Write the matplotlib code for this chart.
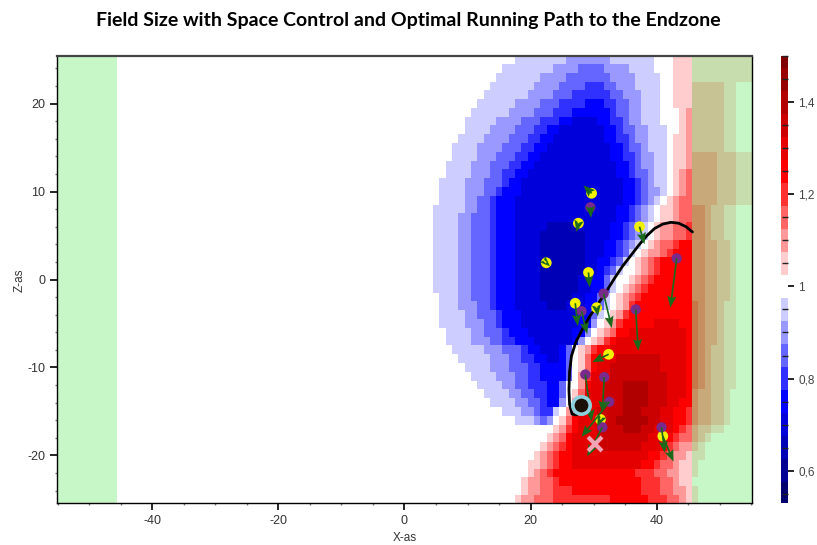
import numpy as np
import matplotlib
matplotlib.use("Agg")
import matplotlib.pyplot as plt
from matplotlib.colors import ListedColormap, BoundaryNorm
from matplotlib.ticker import MultipleLocator, FuncFormatter

plt.rcParams['font.family'] = ['Liberation Sans', 'DejaVu Sans']
plt.rcParams['axes.unicode_minus'] = False

# space control field, one string per row (y = 25 .. -25), columns x = 5 .. 55
# token "x:c" -> level c starts at column x (runs until the next token)
FIELD_X0, FIELD_X1 = 5, 55
FIELD_ROWS = {
    25: "18:a 26:b 33:a 40:. 43:1",
    24: "16:a 24:b 28:c 32:b 36:a 40:. 43:1",
    23: "15:a 22:b 26:c 33:b 37:a 41:. 43:1",
    22: "14:a 21:b 25:c 29:d 32:c 34:b 37:a 41:. 43:1 46:2 51:1 53:.",
    21: "13:a 20:b 24:c 27:d 33:c 35:b 38:a 41:. 43:1 46:2 51:1 53:.",
    20: "12:a 18:b 22:c 25:d 29:e 32:d 34:c 36:b 38:a 41:. 43:1 46:2 51:1 53:.",
    19: "11:a 17:b 21:c 24:d 27:e 33:d 34:c 36:b 38:a 41:. 44:1 45:2 51:1 53:.",
    18: "10:a 15:b 19:c 22:d 25:e 27:f 31:e 33:d 35:c 36:b 38:a 41:. 44:1 45:2 51:1 53:.",
    17: "10:a 14:b 18:c 21:d 23:e 25:f 32:e 34:d 35:c 37:b 39:a 42:. 44:1 45:2 51:1 53:.",
    16: "9:a 13:b 17:c 20:d 22:e 24:f 32:e 34:d 36:c 37:b 39:a 42:. 43:1 45:2 51:1 53:.",
    15: "8:a 12:b 16:c 19:d 21:e 23:f 33:e 35:d 36:c 38:b 39:a 42:. 43:1 45:2 51:1 53:.",
    14: "8:a 12:b 15:c 18:d 20:e 22:f 33:e 35:d 37:c 38:b 40:a 42:. 43:1 45:2 46:3 50:2 53:1",
    13: "7:a 11:b 14:c 17:d 19:e 21:f 34:e 36:d 37:c 38:b 40:a 42:. 43:1 45:2 46:3 50:2 53:1",
    12: "7:a 11:b 14:c 16:d 18:e 20:f 34:e 36:d 37:c 39:b 40:a 42:. 43:1 44:2 45:3 50:2 53:1",
    11: "6:a 10:b 13:c 16:d 17:e 19:f 35:e 37:d 38:c 39:b 40:a 42:. 43:1 44:2 45:3 50:2 53:1",
    10: "6:a 10:b 13:c 15:d 16:e 19:f 35:e 37:d 38:c 39:b 41:a 42:. 43:1 44:2 45:3 50:2 53:1",
    9: "6:a 10:b 12:c 14:d 15:e 18:f 35:e 37:d 38:c 39:b 40:a 41:. 42:1 43:2 44:3 50:2 53:1",
    8: "5:a 10:b 12:c 14:d 15:e 18:f 34:e 36:d 37:c 38:b 39:a 40:. 41:1 43:2 44:3 46:4 48:3 49:2 51:1 53:.",
    7: "5:a 9:b 11:c 14:d 15:e 18:f 34:e 36:d 37:c 38:b 39:a 40:. 41:1 43:2 44:3 46:4 48:3 49:2 51:1 53:.",
    6: "5:a 9:b 11:c 14:d 15:e 18:f 23:g 28:f 33:e 35:d 36:c 37:b 38:a 39:. 40:1 41:2 43:3 45:4 48:3 49:2 51:1 53:.",
    5: "5:a 9:b 11:c 14:d 15:e 18:f 22:g 29:f 33:e 35:d 36:c 37:b 38:a 39:. 40:1 41:2 43:3 45:4 48:3 49:2 51:1 53:.",
    4: "5:a 9:b 11:c 14:d 15:e 18:f 22:g 29:f 32:e 34:d 35:c 36:b 37:a 38:. 39:1 40:2 41:3 43:4 44:5 46:4 48:3 50:2 52:1 53:.",
    3: "5:a 9:b 11:c 14:d 15:e 18:f 22:g 29:f 32:e 34:d 35:c 36:a 37:. 38:1 39:2 41:3 42:4 43:5 46:4 48:3 50:2 52:1 53:.",
    2: "5:a 9:b 11:c 14:d 15:e 18:f 22:g 29:f 31:e 33:d 34:c 35:a 36:. 37:1 38:2 39:3 40:4 41:5 46:4 48:3 50:2 52:1 53:.",
    1: "5:a 9:b 11:c 14:d 15:e 18:f 22:g 29:f 31:e 32:d 33:c 34:a 35:. 37:1 38:2 39:3 40:4 41:5 46:4 48:3 50:2 52:1 53:.",
    0: "5:a 9:b 11:c 14:d 15:e 18:f 22:g 28:f 30:e 32:c 33:a 34:. 36:1 37:2 38:3 39:4 40:5 46:4 48:3 50:2 52:1 53:.",
    -1: "5:a 9:b 11:c 14:d 15:e 18:f 22:g 28:f 30:e 32:c 33:a 34:. 35:1 36:2 37:3 38:4 39:5 46:4 48:3 50:2 52:1 53:.",
    -2: "6:a 9:b 11:c 14:d 15:e 18:f 22:g 27:f 29:e 31:c 32:a 33:. 34:1 35:2 36:3 37:4 38:5 46:4 48:3 50:2 52:1 53:.",
    -3: "6:a 9:b 12:c 14:d 15:e 18:f 23:g 26:f 29:e 31:c 32:a 33:. 34:1 35:2 36:4 37:5 47:4 48:3 50:2 51:1 53:.",
    -4: "6:a 10:b 12:c 15:d 16:e 19:f 28:e 30:c 31:a 32:. 33:1 34:2 35:4 36:5 47:4 48:3 50:2 51:1 53:.",
    -5: "6:a 10:b 13:c 15:d 16:e 19:f 28:e 30:b 31:. 32:1 33:2 34:4 35:5 40:6 44:5 47:4 48:3 50:2 51:1 53:.",
    -6: "7:a 11:b 13:c 16:d 17:e 20:f 27:e 29:b 30:. 31:1 32:2 33:3 34:5 36:6 45:5 47:4 48:3 50:2 51:1 53:.",
    -7: "7:a 11:b 14:c 16:d 18:e 21:f 27:e 28:b 29:. 30:1 31:2 32:4 33:5 34:6 45:5 47:4 48:3 50:2 51:1 53:.",
    -8: "8:a 13:b 16:c 19:d 20:e 22:f 25:e 26:c 27:. 28:1 29:2 30:4 31:5 33:6 45:5 47:4 48:3 49:2 51:1 53:.",
    -9: "9:a 14:b 17:c 19:d 21:e 23:f 25:e 26:c 27:. 28:1 29:3 30:5 31:6 34:7 41:6 45:5 47:4 48:3 49:2 51:1 53:.",
    -10: "10:a 14:b 17:c 20:d 22:e 26:c 27:. 28:1 29:3 30:5 31:6 33:7 41:6 45:5 47:4 48:3 49:2 51:1 53:.",
    -11: "11:a 15:b 18:c 20:d 22:e 26:c 27:. 28:2 29:4 30:6 33:7 42:6 45:5 47:4 48:3 49:2 51:1 53:.",
    -12: "12:a 16:b 18:c 20:d 23:e 25:c 26:. 28:2 29:5 30:6 32:7 35:8 39:7 42:6 45:5 47:4 48:3 49:2 51:1 53:.",
    -13: "13:a 17:b 19:c 21:d 23:e 25:c 26:. 27:1 28:3 29:6 32:7 35:8 39:7 42:6 45:5 46:4 47:3 49:2 51:1 52:.",
    -14: "14:a 18:b 20:c 22:d 23:e 25:b 26:. 27:2 28:5 29:6 32:7 35:8 39:7 42:6 44:5 46:4 47:3 49:2 51:1 52:.",
    -15: "16:a 19:b 21:c 22:d 24:a 25:. 26:2 27:4 28:6 31:7 35:8 38:7 41:6 43:5 45:4 47:3 49:2 51:1 52:.",
    -16: "18:a 21:b 22:c 23:b 24:. 25:1 26:3 27:5 28:6 31:7 34:8 39:7 41:6 43:5 45:4 47:3 49:2 51:1 52:.",
    -17: "24:1 25:2 26:4 27:5 28:6 31:7 35:8 38:7 40:6 43:5 44:4 45:3 47:2 49:1 51:.",
    -18: "23:1 24:2 25:3 26:5 27:6 31:7 39:6 42:5 43:4 44:3 47:2 48:1 49:.",
    -19: "22:1 23:2 24:3 25:4 26:5 27:6 31:7 38:6 41:5 42:4 43:3 44:2 47:1 48:.",
    -20: "21:1 22:2 23:3 24:4 25:5 27:6 39:5 41:4 42:3 43:2 45:1 48:.",
    -21: "20:1 22:2 23:3 24:4 25:5 27:6 38:5 40:4 41:3 43:2 44:1 47:.",
    -22: "20:1 21:2 22:3 23:4 24:5 37:4 40:3 42:2 44:1 47:.",
    -23: "19:1 20:2 22:3 24:4 25:5 38:4 41:3 43:2 44:1 46:.",
    -24: "19:1 20:2 22:3 24:4 27:5 38:4 41:3 43:2 45:1 47:.",
    -25: "18:1 19:2 21:3 24:4 33:5 39:4 42:3 44:2 45:1 47:.",
}
LEVELS = {'.': 1.0,
          'a': 0.95, 'b': 0.90, 'c': 0.85, 'd': 0.80, 'e': 0.75,
          'f': 0.70, 'g': 0.65, 'h': 0.60,
          '1': 1.05, '2': 1.10, '3': 1.15, '4': 1.20, '5': 1.25,
          '6': 1.30, '7': 1.35, '8': 1.40}

# optimal running path (ball carrier at its start)
PATH_X = [28.0, 27.3, 26.6, 26.2, 26.1, 26.2, 26.5, 27.2, 28.2, 29.4, 30.7, 32.0,
          33.3, 34.6, 36.0, 37.3, 38.5, 39.7, 41.0, 42.3, 43.5, 44.7, 45.7]
PATH_Y = [-14.3, -15.4, -15.3, -14.2, -12.5, -10.5, -8.7, -7.1, -5.7, -4.2, -2.8, -1.4,
          0.1, 1.5, 2.8, 4.0, 5.0, 5.8, 6.3, 6.5, 6.4, 6.0, 5.4]
BALL = (28.0, -14.3)
TARGET = (30.3, -18.75)

# players (yellow / purple) with velocity vectors
YEL_X = [29.7, 27.6, 22.5, 29.2, 37.3, 27.1, 30.5, 32.4, 31.1, 41.0]
YEL_Y = [9.8, 6.4, 1.9, 0.8, 6.0, -2.7, -3.2, -8.5, -15.9, -17.8]
YEL_DX = [-1.3, -0.3, 0.6, 0.2, 0.8, 0.4, 0.2, -2.6, -0.5, 1.7]
YEL_DY = [0.9, -1.0, -0.4, -1.7, -2.0, -2.6, -1.0, -0.9, -0.8, -2.9]

PUR_X = [29.5, 31.6, 28.1, 36.7, 43.2, 28.7, 31.7, 32.5, 31.4, 40.8]
PUR_Y = [8.2, -1.6, -3.6, -3.4, 2.4, -10.8, -11.1, -13.9, -16.8, -16.8]
PUR_DX = [0.1, 1.3, 0.9, 0.4, -1.0, 1.0, -0.3, -4.4, -2.4, 0.5]
PUR_DY = [-1.2, -3.9, -2.6, -4.7, -5.6, -5.3, -4.0, -4.0, -3.3, -2.9]

ENDZONE = 45.7
X_LIM = 55.15
Y_LIM = 25.4


def expand_row(text):
    cells = ['.'] * (FIELD_X1 - FIELD_X0 + 1)
    tokens = [t.split(':') for t in text.split()]
    for k, (start, ch) in enumerate(tokens):
        end = int(tokens[k + 1][0]) if k + 1 < len(tokens) else FIELD_X1 + 1
        for x in range(int(start), end):
            cells[x - FIELD_X0] = ch
    return [LEVELS[c] for c in cells]


rows_y = sorted(FIELD_ROWS, reverse=True)
field = np.array([expand_row(FIELD_ROWS[y]) for y in rows_y])

# discrete blue-white-red scale, white bin centred on 1
centers = np.round(np.arange(0.55, 1.501, 0.05), 3)
colors = plt.cm.seismic(centers - 0.5)
colors[np.isclose(centers, 1.0)] = (1, 1, 1, 1)
cmap = ListedColormap(colors)
bounds = np.concatenate([[0.53], centers[:-1] + 0.025, [1.5]])
norm = BoundaryNorm(bounds, cmap.N)

fig = plt.figure(figsize=(8.17, 5.45), dpi=100)
ax = fig.add_axes([0.0698, 0.0771, 0.8506, 0.8201])
cax = fig.add_axes([0.9559, 0.0771, 0.0086, 0.8201])

im = ax.imshow(field, cmap=cmap, norm=norm, interpolation='nearest', aspect='auto',
               extent=(FIELD_X0 - 0.5, FIELD_X1 + 0.5, rows_y[-1] - 0.5, rows_y[0] + 0.5),
               zorder=1)

# endzones
ax.axvspan(-X_LIM, -ENDZONE, color='lightgreen', alpha=0.5, lw=0, zorder=2)
ax.axvspan(ENDZONE, X_LIM, color='lightgreen', alpha=0.5, lw=0, zorder=2)

ax.plot(PATH_X, PATH_Y, color='black', lw=2.0, solid_capstyle='round', zorder=3)

ax.scatter(YEL_X, YEL_Y, s=60, c='#f2f200', edgecolors='none', zorder=4)
ax.scatter(PUR_X, PUR_Y, s=55, c='#7a2a8c', edgecolors='none', zorder=4)
arrow_kw = dict(angles='xy', scale_units='xy', scale=1, color='#1b6a1b', width=0.0024,
                headwidth=5.5, headlength=7, headaxislength=6, minshaft=0.5, zorder=5)
ax.quiver(YEL_X, YEL_Y, YEL_DX, YEL_DY, **arrow_kw)
ax.quiver(PUR_X, PUR_Y, PUR_DX, PUR_DY, **arrow_kw)

ax.plot(*BALL, marker='o', ms=12.5, mfc='#1a1008', mec='#8fd0dc', mew=2.6, zorder=6)
ax.plot(*TARGET, marker='x', ms=10, mec='#f2a3b6', mew=3.0, zorder=6)

ax.set_xlim(-X_LIM, X_LIM)
ax.set_ylim(-Y_LIM, Y_LIM)
ax.set_xticks([-40, -20, 0, 20, 40])
ax.set_yticks([-20, -10, 0, 10, 20])
ax.xaxis.set_minor_locator(MultipleLocator(5))
ax.yaxis.set_minor_locator(MultipleLocator(2))
ax.tick_params(which='major', length=5, width=1.2, labelsize=9, labelcolor='#333333')
ax.tick_params(which='minor', length=1.5, width=1, color='#777777')
for side in ['left', 'bottom', 'right']:
    ax.spines[side].set_linewidth(1.0)
ax.spines['top'].set_linewidth(1.6)
ax.spines['top'].set_color('#444444')

fig.text(0.4957, 0.013, 'X-as', ha='center', va='center', fontsize=8.5, color='#333333')
fig.text(0.0245, 0.486, 'Z-as', ha='center', va='center', rotation=90, fontsize=8.5,
         color='#333333')
fig.text(0.5, 0.963, 'Field Size with Space Control and Optimal Running Path to the Endzone',
         ha='center', va='center', fontsize=14, fontweight='bold', family=['Lato', 'DejaVu Sans'])

cb = fig.colorbar(im, cax=cax, spacing='proportional', ticks=[0.6, 0.8, 1.0, 1.2, 1.4])
cb.outline.set_visible(False)
cb.ax.yaxis.set_major_formatter(FuncFormatter(lambda v, p: ('%g' % v).replace('.', ',')))
cb.ax.yaxis.set_minor_locator(MultipleLocator(0.05))
cb.ax.tick_params(which='major', length=4, width=1.2, labelsize=8.5, labelcolor='#444444')
cb.ax.tick_params(which='minor', direction='in', length=4, width=1, color='#222222')

fig.savefig('out.png', dpi=100)
